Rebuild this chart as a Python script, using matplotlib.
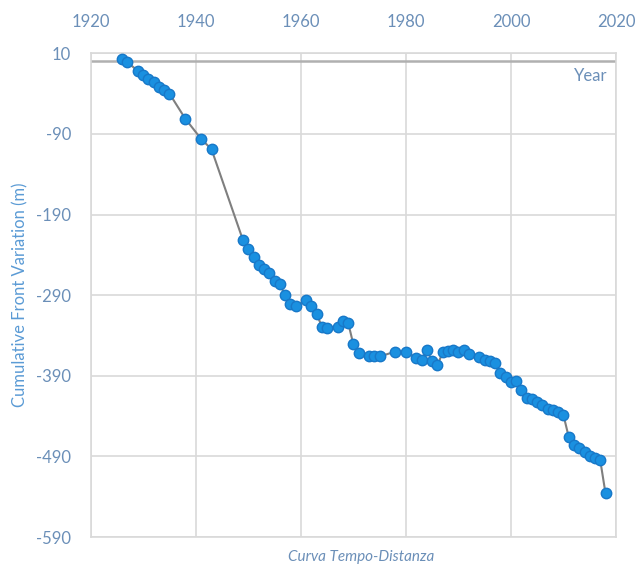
import matplotlib
matplotlib.use("Agg")
import matplotlib.pyplot as plt

# ── data ─────────────────────────────────────────────────────
years = [1926, 1927, 1929, 1930, 1931, 1932, 1933, 1934, 1935, 1938,
         1941, 1943, 1949, 1950, 1951, 1952, 1953, 1954, 1955, 1956,
         1957, 1958, 1959, 1961, 1962, 1963, 1964, 1965, 1967, 1968,
         1969, 1970, 1971, 1973, 1974, 1975, 1978, 1980, 1982, 1983,
         1984, 1985, 1986, 1987, 1988, 1989, 1990, 1991, 1992, 1994,
         1995, 1996, 1997, 1998, 1999, 2000, 2001, 2002, 2003, 2004,
         2005, 2006, 2007, 2008, 2009, 2010, 2011, 2012, 2013, 2014,
         2015, 2016, 2017, 2018]
front_var = [3, -1, -12, -17, -22, -25, -32, -35, -40, -71,
             -96, -109, -222, -233, -243, -252, -258, -262, -272, -276,
             -290, -301, -304, -296, -304, -313, -329, -331, -329, -322,
             -324, -351, -362, -365, -366, -366, -360, -360, -368, -370,
             -358, -372, -377, -361, -359, -358, -360, -358, -363, -367,
             -371, -372, -374, -386, -391, -398, -396, -408, -417, -419,
             -423, -426, -431, -432, -435, -439, -466, -476, -480, -485,
             -489, -492, -495, -536]

x_ticks = [1920, 1940, 1960, 1980, 2000, 2020]
y_ticks = [10, -90, -190, -290, -390, -490, -590]

# ── style ────────────────────────────────────────────────────
plt.rcParams['font.family'] = ['Lato', 'DejaVu Sans']
plt.rcParams['axes.unicode_minus'] = False
tick_col = '#6b8fb8'
label_col = '#5b9bd5'
grid_col = '#d9d9d9'

fig = plt.figure(figsize=(6.36, 5.67), dpi=100)
ax = fig.add_axes([0.1426, 0.0529, 0.826, 0.853])

ax.plot(years, front_var, color='#7f7f7f', linewidth=1.5, zorder=3,
        marker='o', markersize=7.5, markerfacecolor='#1a90e0',
        markeredgecolor='#1878c8', markeredgewidth=1.0)

ax.set_xlim(1920, 2020)
ax.set_ylim(-590, 10)
ax.set_xticks(x_ticks)
ax.set_yticks(y_ticks)

ax.xaxis.tick_top()
ax.tick_params(axis='x', length=0, pad=17, labelsize=12, labelcolor=tick_col)
ax.tick_params(axis='y', length=0, pad=14, labelsize=12, labelcolor=tick_col)

ax.grid(True, color=grid_col, linewidth=1.2, zorder=0)
for side in ax.spines.values():
    side.set_color(grid_col)
    side.set_linewidth(1.2)

# horizontal axis line at zero
ax.axhline(0, color='#b0b0b0', linewidth=1.8, zorder=2)

ax.text(2018.3, -18, 'Year', ha='right', va='center',
        fontsize=12, color=tick_col)

ax.set_ylabel('Cumulative Front Variation (m)', fontsize=12,
              color=label_col)
ax.yaxis.set_label_coords(-0.119, 0.5)

fig.text(0.568, 0.0176, 'Curva Tempo-Distanza', ha='center', va='center',
         fontsize=11, style='italic', color=tick_col)

fig.savefig('out.png', dpi=100)
